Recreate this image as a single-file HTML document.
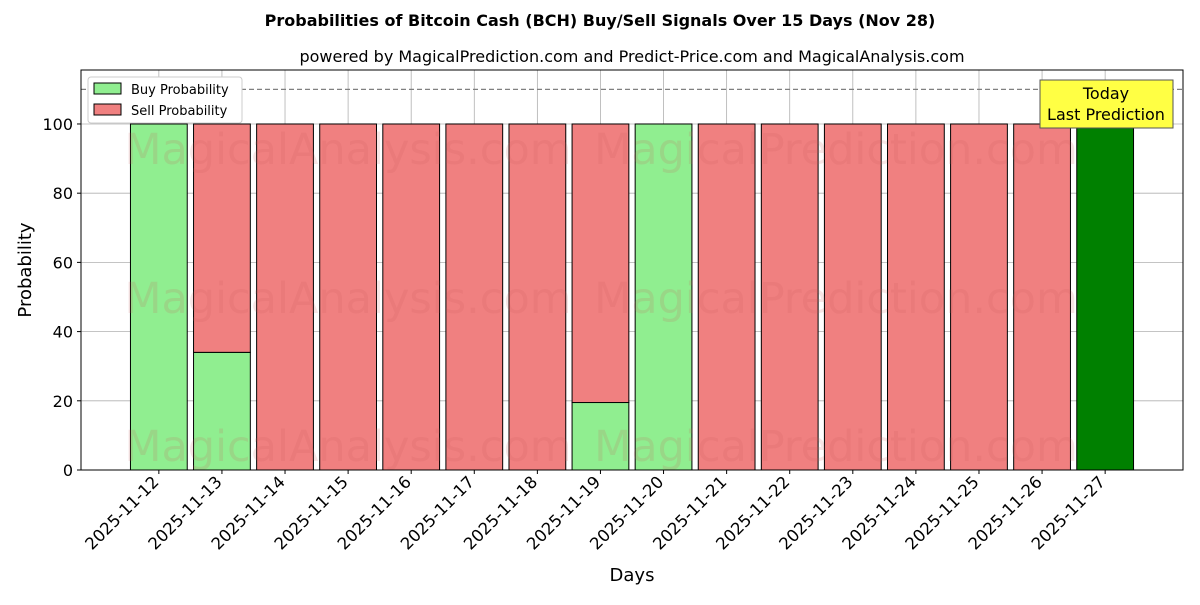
<!DOCTYPE html>
<html><head><meta charset="utf-8"><style>
body{margin:0;background:#fff;}
svg text{font-family:"DejaVu Sans","Liberation Sans",sans-serif;}
</style></head><body>
<svg id="chart" width="1200" height="600" xmlns="http://www.w3.org/2000/svg">
<text x="600" y="26" text-anchor="middle" font-size="16" font-weight="bold">Probabilities of Bitcoin Cash (BCH) Buy/Sell Signals Over 15 Days (Nov 28)</text>
<text x="632" y="62" text-anchor="middle" font-size="16">powered by MagicalPrediction.com and Predict-Price.com and MagicalAnalysis.com</text>
<g id="grid"></g>
<g id="bars"></g>
<g id="wm" fill="#d06060" fill-opacity="0.16" font-size="43">
<text x="348" y="164" text-anchor="middle">MagicalAnalysis.com</text>
<text x="836" y="164" text-anchor="middle">MagicalPrediction.com</text>
<text x="348" y="313" text-anchor="middle">MagicalAnalysis.com</text>
<text x="836" y="313" text-anchor="middle">MagicalPrediction.com</text>
<text x="348" y="461" text-anchor="middle">MagicalAnalysis.com</text>
<text x="836" y="461" text-anchor="middle">MagicalPrediction.com</text>
</g>
<line id="thr" x1="81" x2="1183" stroke="#808080" stroke-width="1.2" stroke-dasharray="5,3"/>
<g id="axes"></g>
<rect x="81" y="70" width="1102" height="400" fill="none" stroke="#000" stroke-width="1"/>
<g>
<rect x="1040" y="80" width="133" height="48" fill="#ffff44" stroke="#555" stroke-width="1"/>
<text x="1106" y="99" text-anchor="middle" font-size="16">Today</text>
<text x="1106" y="120" text-anchor="middle" font-size="16">Last Prediction</text>
</g>
<g>
<rect x="88" y="77" width="154" height="46" fill="#fff" stroke="#ccc" rx="3"/>
<rect x="94" y="83" width="27" height="11" fill="#90ee90" stroke="#000"/>
<text x="131" y="94" font-size="13">Buy Probability</text>
<rect x="94" y="104" width="27" height="11" fill="#f08080" stroke="#000"/>
<text x="131" y="115" font-size="13">Sell Probability</text>
</g>
<text transform="translate(31,270) rotate(-90)" text-anchor="middle" font-size="18">Probability</text>
<text x="632" y="581" text-anchor="middle" font-size="18">Days</text>
</svg>
<script>
const days=["2025-11-12","2025-11-13","2025-11-14","2025-11-15","2025-11-16","2025-11-17","2025-11-18","2025-11-19","2025-11-20","2025-11-21","2025-11-22","2025-11-23","2025-11-24","2025-11-25","2025-11-26","2025-11-27"];
const buyValues=[100,34,0,0,0,0,0,19.5,100,0,0,0,0,0,0,100];
const sellValues=[0,66,100,100,100,100,100,80.5,0,100,100,100,100,100,100,0];
const yTicks=[0,20,40,60,80,100];
const threshold=110;
const NS="http://www.w3.org/2000/svg";
const L=81,R=1183,T=70,B=470,ymax=115.6,xmin=-1.234,xmax=days.length-1+1.234;
const xs=i=>L+(i-xmin)/(xmax-xmin)*(R-L);
const ys=v=>B-v/ymax*(B-T);
const bw=0.9*(R-L)/(xmax-xmin);
function mk(tag,attrs,parent){const e=document.createElementNS(NS,tag);for(const k in attrs)e.setAttribute(k,attrs[k]);parent.appendChild(e);return e;}
const grid=document.getElementById('grid'),bars=document.getElementById('bars'),axes=document.getElementById('axes');
yTicks.forEach(v=>{
 const g=mk('line',{x1:L,x2:R,y1:ys(v),y2:ys(v),stroke:'#b0b0b0','stroke-width':0.8},grid);
 
 
 mk('line',{x1:L-4,x2:L,y1:ys(v),y2:ys(v),stroke:'#000'},axes);
 const t=mk('text',{x:L-8,y:ys(v)+6,'text-anchor':'end','font-size':16},axes);t.textContent=v;
 
 
});
days.forEach((d,i)=>{
 const x=xs(i);
 const g=mk('line',{x1:x,x2:x,y1:T,y2:B,stroke:'#b0b0b0','stroke-width':0.8},grid);
 
 
 mk('line',{x1:x,x2:x,y1:B,y2:B+4,stroke:'#000'},axes);
 const t=mk('text',{transform:`translate(${x+1},${B+13}) rotate(-45)`,'text-anchor':'end','font-size':16.5},axes);t.textContent=d;
 
 
 const last=i===days.length-1;
 if(buyValues[i]>0){
  const b=mk('rect',{x:x-bw/2,y:ys(buyValues[i]),width:bw,height:ys(0)-ys(buyValues[i]),fill:last?'#008000':'#90ee90',stroke:'#000','stroke-width':1},bars);
  
  
 }
 if(sellValues[i]>0){
  const s=mk('rect',{x:x-bw/2,y:ys(buyValues[i]+sellValues[i]),width:bw,height:ys(buyValues[i])-ys(buyValues[i]+sellValues[i]),fill:'#f08080',stroke:'#000','stroke-width':1},bars);
  
  
 }
});
const th=document.getElementById('thr');th.setAttribute('y1',ys(threshold));th.setAttribute('y2',ys(threshold));
</script>
</body></html>
